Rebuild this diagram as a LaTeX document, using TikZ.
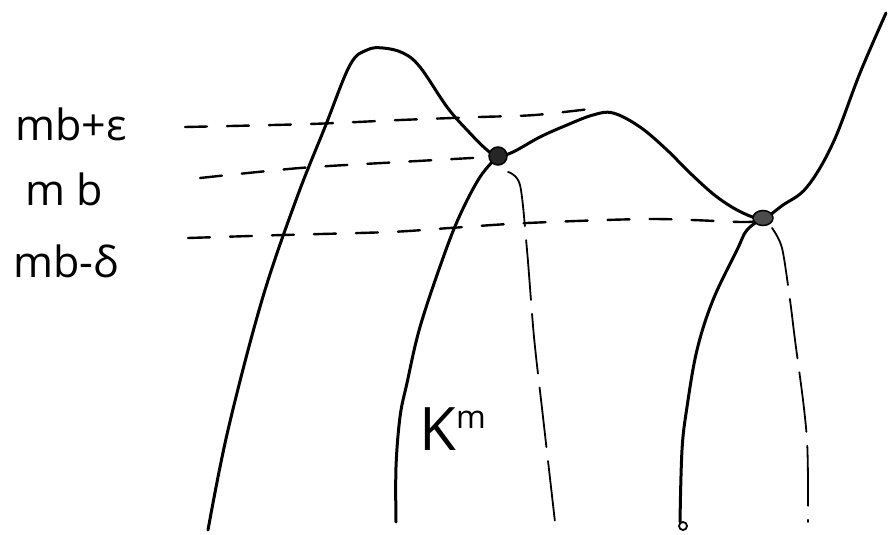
\documentclass[tikz,border=0pt]{standalone}
\usepackage{fontspec}
\setmainfont{Open Sans}
\usetikzlibrary{shapes.geometric}
\begin{document}
\begin{tikzpicture}[x=1pt,y=-1pt,
  curve/.style={line width=3pt,line cap=round,line join=round},
  guide/.style={line width=2.4pt,line cap=round,dash pattern=on 22pt off 20pt},
  vguide/.style={line width=1.8pt,line cap=round,dash pattern=on 60pt off 14pt},
  lab/.style={anchor=base west,inner sep=0pt,font=\fontsize{43}{48}\selectfont},
  pt/.style={fill=black!85,draw=black,line width=1.5pt}]
\useasboundingbox (0,0) rectangle (889,535);
% main curve
\draw[curve] plot[smooth,tension=0.6] coordinates {
 (208,530) (228,430) (262,300) (296,200) (325,127) (350,65) (367,50) (383,48) (403,53) (420,67) (447,107) (467,130) (487,150) (498,156) (513,152) (540,137) (567,125) (593,115) (613,113) (640,127) (667,150) (690,173) (717,197) (743,213) (763,218) (783,205) (807,187) (833,143) (860,73) (886,13)};
% second curve
\draw[curve] plot[smooth,tension=0.6] coordinates {
 (498,156) (480,177) (460,215) (443,258) (420,327) (407,383) (400,417) (396,467) (396,522)};
% third curve
\draw[curve] plot[smooth,tension=0.6] coordinates {
 (763,218) (747,230) (737,250) (713,300) (697,350) (687,407) (682,450) (680,522)};
\draw[line width=1.8pt] (683,526) circle (4);
% horizontal guides
\draw[guide] plot[smooth] coordinates {(185,127) (310,124) (400,120) (480,117) (535,115) (598,108)};
\draw[guide] plot[smooth] coordinates {(200,178) (300,168) (400,162) (490,157)};
\draw[guide] plot[smooth] coordinates {(188,238) (283,235) (390,232) (450,228) (527,223) (650,219) (740,222) (755,221)};
% vertical guides
\draw[vguide] plot[smooth] coordinates {(508,172) (520,185) (527,250) (534,337) (543,417) (555,522)};
\draw[vguide] plot[smooth] coordinates {(772,228) (782,248) (790,300) (795,340) (803,400) (807,440) (808,480) (808,522)};
% points
\node[pt,circle,minimum size=18pt,inner sep=0pt] (p1) at (498,156) {};
\node[pt,ellipse,minimum width=20pt,minimum height=15pt,inner sep=0pt,fill=black!70] (p2) at (763,218) {};
% labels
\node[lab] (l1) at (15,140) {mb+ε};
\node[lab] (l2) at (25,205) {m b};
\node[lab] (l3) at (13,277) {mb-δ};
\node[lab,font=\fontsize{60}{66}\selectfont] (k) at (419,450) {K\raisebox{22pt}{\fontsize{32}{36}\selectfont m}};
\end{tikzpicture}
\end{document}
